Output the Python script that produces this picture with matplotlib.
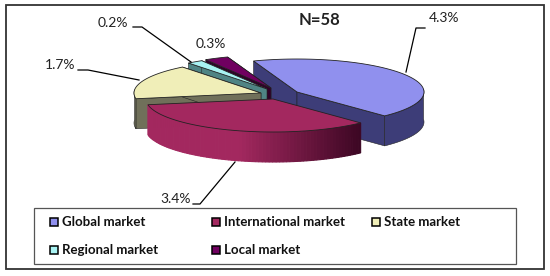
import numpy as np
import matplotlib
matplotlib.use("Agg")
import matplotlib.pyplot as plt
from matplotlib.patches import Polygon, Rectangle
from matplotlib.colors import to_rgb

labels = ["Global market", "International market", "State market", "Regional market", "Local market"]
values = [4.3, 3.4, 1.7, 0.2, 0.3]
title = "N=58"

top_colors = ["#9090ee", "#a3285f", "#f0eeb8", "#a8f2f2", "#700060"]
wall_colors = ["#3d3d78", "#a3285f", "#70705a", "#4f8484", "#300028"]
apex_x = [297, 273, 261, 267, 271]
apex_y = [92, 99, 93, 89, 88]

rx = 127
ry = 33
depth = 30
start = 110

plt.rcParams["font.family"] = ["Lato", "DejaVu Sans"]

fig = plt.figure(figsize=(5.5, 2.76), dpi=100)
ax = fig.add_axes([0, 0, 1, 1])
ax.set_xlim(0, 550)
ax.set_ylim(276, 0)
ax.axis("off")

# outer frame
ax.add_patch(Rectangle((6, 5), 538, 264, fc="white", ec="#333333", lw=1.3, zorder=0))

# slice angles, clockwise from start
sweep = np.array(values) / sum(values) * 360
ends = start - np.cumsum(sweep)
starts = ends + sweep

z = 1


def add(patch):
    # keep painter's order for all the pie pieces
    global z
    patch.set_zorder(z)
    z += 1
    ax.add_patch(patch)


def arc(i, a0, a1, n=80):
    t = np.radians(np.linspace(a0, a1, n))
    return apex_x[i] + rx * np.cos(t), apex_y[i] - ry * np.sin(t)


def red_color(x):
    f = np.clip((x - 240) / (364 - 240), 0, 1)
    a = np.array(to_rgb("#a3285f"))
    b = np.array(to_rgb("#3a0622"))
    return tuple(a + (b - a) * f)


def draw_slice(i):
    ang = np.linspace(starts[i], ends[i], 80)
    xs, ys = arc(i, starts[i], ends[i])
    x0, y0 = apex_x[i], apex_y[i]
    # cut faces, the red slice shows none
    if i != 1:
        for k in [0, -1]:
            face = [(x0, y0), (xs[k], ys[k]), (xs[k], ys[k] + depth), (x0, y0 + depth)]
            add(Polygon(face, fc=wall_colors[i], ec="#222222", lw=0.4))
    # outer wall, only the part facing the viewer
    front = np.sin(np.radians(ang)) <= 0.1
    fx, fy = xs[front], ys[front]
    if len(fx) > 1:
        if i == 1:
            for j in range(len(fx) - 1):
                q = [(fx[j], fy[j]), (fx[j + 1], fy[j + 1]), (fx[j + 1], fy[j + 1] + depth), (fx[j], fy[j] + depth)]
                c = red_color(fx[j])
                add(Polygon(q, fc=c, ec=c, lw=0.8))
        else:
            wall = list(zip(fx, fy)) + list(zip(fx[::-1], fy[::-1] + depth))
            add(Polygon(wall, fc=wall_colors[i], ec="#222222", lw=0.4))
    add(Polygon([(x0, y0)] + list(zip(xs, ys)), fc=top_colors[i], ec="#222222", lw=0.6))


for i in [0, 4, 3, 2, 1]:
    draw_slice(i)

# value labels with leader lines
leaders = [
    ([406, 416, 425], [72, 28, 28], 429, 18),
    ([235, 200, 193], [162, 204, 204], 160, 199),
    ([139, 88, 78], [80, 70, 70], 45, 65),
    ([191, 142, 133], [62, 27, 27], 98, 23),
    (None, None, 196, 44),
]
for v, (lx, ly, tx, ty) in zip(values, leaders):
    if lx is not None:
        ax.plot(lx, ly, color="black", lw=0.9, zorder=200)
    ax.text(tx, ty, f"{v}%", fontsize=10, ha="left", va="center", color="#222222", zorder=201)

ax.text(320, 20, title, fontsize=12, fontweight="bold", ha="center", va="center", color="#222222", zorder=201)

# legend box, laid out by hand because its columns are uneven
ax.add_patch(Rectangle((33.5, 208), 482.5, 56, fc="white", ec="#555555", lw=0.9, zorder=300))
col_x = [50, 212, 372, 50, 212]
row_y = [222, 222, 222, 250, 250]
for c, name, lx, ly in zip(top_colors, labels, col_x, row_y):
    ax.add_patch(Rectangle((lx, ly - 4.5), 8, 8, fc=c, ec="black", lw=1.1, zorder=301))
    ax.text(lx + 12, ly - 0.5, name, fontsize=9.5, fontweight="bold", ha="left", va="center", color="#111111", zorder=301)

fig.savefig("out.png", dpi=100)
